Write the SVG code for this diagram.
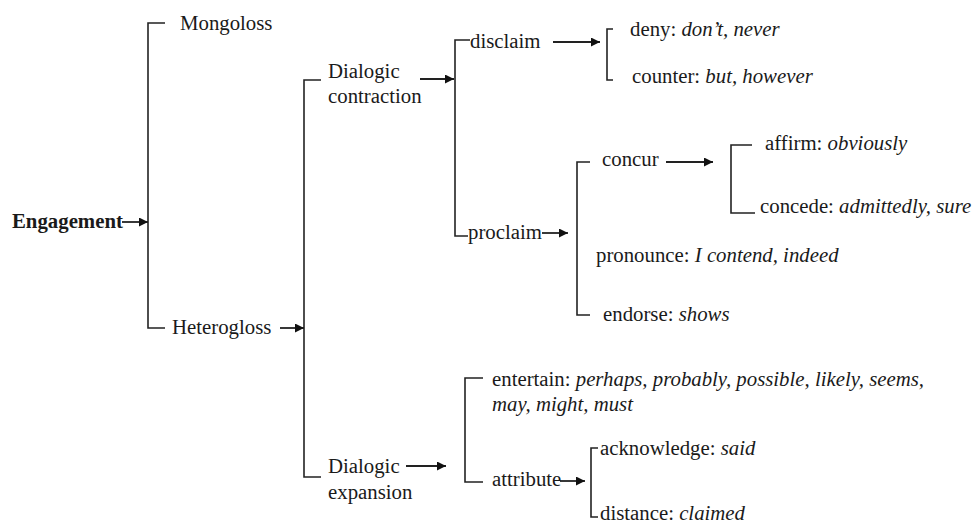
<svg xmlns="http://www.w3.org/2000/svg" width="973" height="526" viewBox="0 0 973 526">
<style>
text{font-size:20.8px;fill:#1a1a1a}
.b{font-weight:bold}
.i{font-style:italic}
.br{fill:none;stroke:#222;stroke-width:1.6}
.ar{fill:none;stroke:#222;stroke-width:1.8;marker-end:url(#ah)}
</style>
<defs>
<marker id="ah" viewBox="0 0 10 10" refX="10" refY="5" markerWidth="11" markerHeight="9" markerUnits="userSpaceOnUse" orient="auto">
<path d="M0,0 L10,5 L0,10 Z" fill="#111"/>
</marker>
</defs>
<rect width="973" height="526" fill="#fff"/>
<g id="connectors">
<path class="br" d="M165 23 H148 V328 H165"/>
<path class="br" d="M321 80 H304 V477 H321"/>
<path class="br" d="M470 40 H455 V236 H468"/>
<path class="br" d="M613 29 H607 V80 H613"/>
<path class="br" d="M590 162 H577 V315 H590"/>
<path class="br" d="M752 145 H731 V213 H755"/>
<path class="br" d="M483 378 H465 V482 H483"/>
<path class="br" d="M598 448 H591 V517 H598"/>
<path class="ar" d="M122 222 H148"/>
<path class="ar" d="M280 328 H304"/>
<path class="ar" d="M420 79 H454"/>
<path class="ar" d="M553 42 H600"/>
<path class="ar" d="M542 233 H568"/>
<path class="ar" d="M666 162 H713"/>
<path class="ar" d="M406 466 H446"/>
<path class="ar" d="M560 481 H585"/>
</g>
<g font-family="Liberation Serif, DejaVu Serif, serif">
<g id="engagement"><text class="b" x="12" y="228">Engagement</text></g>
<g id="mongoloss"><text x="180" y="30">Mongoloss</text></g>
<g id="heterogloss"><text x="172" y="334">Heterogloss</text></g>
<g id="dialogic-contraction"><text x="328" y="78">Dialogic</text><text x="328" y="103">contraction</text></g>
<g id="disclaim"><text x="470" y="48">disclaim</text></g>
<g id="deny"><text x="630" y="36">deny: <tspan class="i">don’t, never</tspan></text></g>
<g id="counter"><text x="632" y="83">counter: <tspan class="i">but, however</tspan></text></g>
<g id="proclaim"><text x="468" y="239">proclaim</text></g>
<g id="concur"><text x="602" y="166">concur</text></g>
<g id="affirm"><text x="765" y="150">affirm: <tspan class="i">obviously</tspan></text></g>
<g id="concede"><text x="760" y="213">concede: <tspan class="i">admittedly, sure</tspan></text></g>
<g id="pronounce"><text x="596" y="262">pronounce: <tspan class="i">I contend, indeed</tspan></text></g>
<g id="endorse"><text x="603" y="321">endorse: <tspan class="i">shows</tspan></text></g>
<g id="dialogic-expansion"><text x="328" y="473">Dialogic</text><text x="328" y="499">expansion</text></g>
<g id="entertain"><text x="492" y="386">entertain: <tspan class="i">perhaps, probably, possible, likely, seems,</tspan></text><text class="i" x="492" y="411">may, might, must</text></g>
<g id="attribute"><text x="492" y="486">attribute</text></g>
<g id="acknowledge"><text x="600" y="455">acknowledge: <tspan class="i">said</tspan></text></g>
<g id="distance"><text x="600" y="520">distance: <tspan class="i">claimed</tspan></text></g>
</g>
</svg>
